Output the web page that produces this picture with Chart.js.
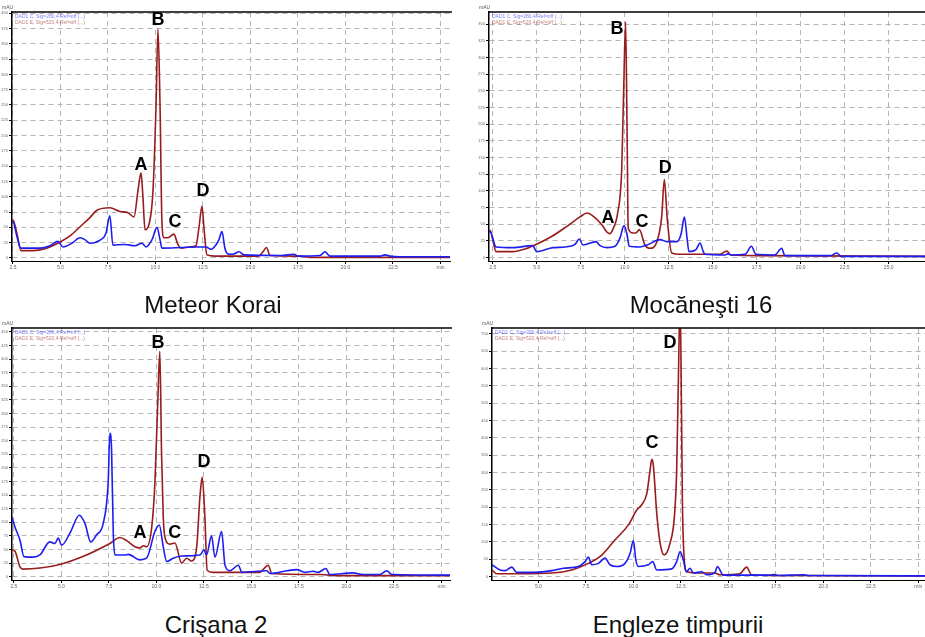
<!DOCTYPE html>
<html>
<head>
<meta charset="utf-8">
<script src="https://cdn.jsdelivr.net/npm/chart.js@4.4.0/dist/chart.umd.min.js"></script>
<style>
  body { margin: 0; background: #fff; width: 925px; height: 637px; overflow: hidden; position: relative; font-family: "Liberation Sans", Arial, sans-serif; }
  canvas { position: absolute; }
  .title { position: absolute; width: 300px; text-align: center; font-size: 24px; line-height: 28px; color: #111; }
</style>
</head>
<body>
<canvas id="cMK" width="455" height="275" style="left:0;top:0"></canvas>
<canvas id="cMO" width="460" height="275" style="left:470px;top:0"></canvas>
<canvas id="cCR" width="455" height="278" style="left:0;top:316px"></canvas>
<canvas id="cEN" width="458" height="278" style="left:472px;top:316px"></canvas>
<div class="title" style="left:63px;top:291px">Meteor Korai</div>
<div class="title" style="left:551px;top:291px">Mocăneşti 16</div>
<div class="title" style="left:66px;top:611px">Crişana 2</div>
<div class="title" style="left:528px;top:611px">Engleze timpurii</div>
<script>
// signal names
var blueLabel = 'DAD1 C, Sig=280,4 Ref=off (...)';
var redLabel = 'DAD1 E, Sig=520,4 Ref=off (...)';

// Meteor Korai (min, mAU)
var mkRedT = [2.45, 2.5, 2.71, 2.92, 3.55, 4.18, 5.03, 5.5, 6.03, 6.55, 6.92, 7.6, 8.13, 8.55, 8.87, 9.08, 9.24, 9.34, 9.45, 9.66, 9.87, 10.03, 10.13, 10.24, 10.34, 10.45, 10.66, 10.97, 11.18, 11.34, 11.82, 12.13, 12.29, 12.45, 12.55, 12.71, 13.13, 13.66, 15.4, 15.66, 15.84, 16.03, 17.6, 18.13, 25.5];
var mkRedV = [62, 62, 40, 12, 12, 15, 27, 36, 51, 66, 78, 82, 76, 74, 67, 110, 139, 100, 46, 55, 110, 250, 374, 250, 60, 33, 33, 39, 22, 16, 18, 20, 50, 85, 50, 5, 3, 3, 3, 10, 17, 4, 3, 1, 1];
var mkBlueT = [2.45, 2.5, 2.71, 2.92, 3.92, 4.45, 4.87, 5.13, 5.6, 6.03, 6.29, 6.55, 7.08, 7.39, 7.6, 7.76, 8.39, 8.92, 9.29, 9.5, 9.82, 10.08, 10.24, 10.34, 11.34, 12.13, 12.66, 12.92, 13.18, 13.34, 13.5, 13.66, 13.87, 14.08, 14.4, 14.66, 16.6, 17.29, 17.5, 18.66, 18.92, 19.18, 20.24, 21.82, 22.08, 22.34, 22.87, 25.5];
var mkBlueV = [59, 59, 35, 16, 16, 20, 27, 18, 24, 33, 30, 24, 29, 40, 69, 21, 22, 20, 24, 18, 30, 50, 30, 16, 17, 18, 18, 14, 21, 30, 43, 15, 6, 6, 10, 5, 4, 6, 3, 4, 10, 3, 3, 3, 5, 3, 2, 2];
var mkPeaks = ['A', 'B', 'C', 'D'];
var mkPeakT = [9.24, 10.13, 11.03, 12.5];
var mkPeakV = [152, 389, 59, 109];

// Mocăneşti 16
var moRedT = [2.29, 2.35, 2.52, 2.69, 3.65, 4.34, 4.9, 5.87, 6.72, 7.46, 7.86, 8.31, 8.71, 9.0, 9.15, 9.32, 9.6, 9.83, 9.94, 10.05, 10.13, 10.2, 10.47, 10.64, 10.83, 11.15, 11.43, 11.83, 12.1, 12.25, 12.42, 12.67, 13.14, 15.41, 15.64, 15.8, 16.03, 17.68, 27.06];
var moRedV = [41, 41, 25, 9, 9, 13, 19, 32, 47, 61, 67, 60, 49, 38, 36, 42, 67, 132, 250, 353, 200, 44, 37, 37, 42, 19, 14, 24, 61, 117, 57, 7, 5, 5, 8, 10, 4, 3, 2];
var moBlueT = [2.29, 2.35, 2.69, 3.65, 4.77, 5.0, 5.93, 6.61, 7.18, 7.42, 7.63, 8.37, 8.6, 9.0, 9.45, 9.74, 9.96, 10.13, 10.26, 10.87, 11.27, 12.02, 12.39, 12.97, 13.2, 13.39, 13.54, 13.65, 14.05, 14.28, 14.45, 14.56, 15.7, 15.87, 16.04, 16.84, 17.2, 17.45, 18.53, 18.92, 19.1, 21.67, 22.05, 22.3, 27.06];
var moBlueV = [39, 39, 16, 15, 18, 9, 15, 16, 20, 28, 19, 24, 18, 15, 17, 30, 48, 35, 17, 16, 19, 27, 24, 24, 35, 61, 30, 9, 12, 22, 10, 5, 4, 6, 4, 5, 17, 5, 4, 14, 3, 3, 7, 2, 2];
var moPeaks = ['A', 'B', 'C', 'D'];
var moPeakT = [9.05, 9.56, 10.98, 12.3];
var moPeakV = [60, 342, 54, 135];

// Crişana 2
var crRedT = [2.39, 2.55, 2.82, 2.97, 3.87, 4.97, 6.13, 7.55, 8.08, 8.45, 8.87, 9.13, 9.31, 9.48, 9.75, 9.92, 10.08, 10.18, 10.27, 10.36, 10.45, 10.71, 10.97, 11.33, 11.59, 11.85, 12.12, 12.29, 12.41, 12.55, 12.67, 12.97, 15.45, 15.66, 15.88, 16.08, 18.61, 19.66, 25.45];
var crRedV = [49, 47, 18, 14, 16, 23, 37, 61, 72, 66, 55, 53, 57, 55, 90, 172, 330, 414, 227, 110, 72, 60, 62, 25, 34, 29, 55, 147, 183, 110, 12, 8, 8, 15, 21, 6, 4, 2, 2];
var crBlueT = [2.39, 2.55, 2.82, 3.03, 3.5, 3.87, 4.39, 4.66, 4.83, 5.01, 5.45, 5.94, 6.24, 6.54, 6.85, 7.2, 7.46, 7.55, 7.64, 7.73, 7.82, 8.34, 8.52, 9.13, 9.48, 9.92, 10.15, 10.36, 10.54, 10.88, 11.33, 12.29, 12.5, 12.64, 12.9, 13.08, 13.43, 13.61, 13.87, 14.31, 14.5, 15.82, 15.97, 16.87, 17.39, 17.82, 18.24, 18.5, 18.92, 19.13, 20.34, 20.87, 21.76, 22.12, 22.39, 25.45];
var crBlueV = [110, 92, 67, 37, 36, 40, 64, 61, 71, 58, 80, 113, 98, 64, 77, 98, 172, 264, 233, 80, 40, 40, 41, 31, 34, 83, 95, 55, 28, 34, 38, 40, 49, 40, 75, 36, 83, 21, 11, 21, 8, 11, 6, 11, 13, 8, 10, 8, 15, 4, 7, 4, 4, 11, 4, 3];
var crPeaks = ['A', 'B', 'C', 'D'];
var crPeakT = [9.13, 10.08, 10.97, 12.5];
var crPeakV = [80, 429, 80, 211];

// Engleze timpurii
var enRedT = [2.56, 2.81, 4.04, 5.71, 6.76, 7.63, 8.34, 9.04, 9.74, 10.18, 10.44, 10.71, 10.88, 10.97, 11.05, 11.23, 11.41, 11.62, 11.93, 12.16, 12.28, 12.38, 12.46, 12.53, 12.58, 12.68, 12.8, 13.5, 14.29, 14.56, 15.6, 15.96, 16.22, 17.43, 25.35];
var enRedV = [19, 8, 8, 10, 19, 38, 62, 106, 149, 192, 207, 240, 307, 338, 322, 183, 96, 62, 96, 173, 307, 600, 800, 500, 221, 48, 14, 10, 10, 5, 8, 27, 5, 3, 2];
var enBlueT = [2.56, 2.98, 3.25, 3.6, 3.86, 4.83, 5.71, 6.32, 7.11, 7.46, 7.63, 7.81, 8.16, 8.51, 8.77, 9.13, 9.56, 9.83, 10.0, 10.13, 10.26, 10.79, 11.02, 11.23, 12.02, 12.28, 12.46, 12.63, 12.8, 12.98, 13.16, 13.6, 13.86, 14.3, 14.42, 14.74, 17.2, 17.41, 17.62, 18.94, 19.2, 25.35];
var enBlueV = [34, 19, 17, 27, 12, 12, 17, 24, 29, 43, 56, 34, 38, 53, 34, 29, 38, 67, 104, 48, 29, 34, 43, 19, 22, 43, 72, 48, 14, 24, 10, 14, 5, 12, 29, 4, 4, 6, 3, 5, 3, 2];
var enPeaks = ['C', 'D'];
var enPeakT = [10.98, 11.93];
var enPeakV = [385, 673];

function pts(t, v) {
    return t.map(function (x, i) { return { x: x, y: v[i] }; });
}

// ticks only on whole steps inside the axis range
function onStep(step) {
    return function (scale) {
        var ticks = [];
        var k = Math.ceil(Math.max(scale.min, 0) / step - 1e-9);
        for (; k * step <= scale.max + 1e-9; k++) {
            ticks.push({ value: Math.round(k * step * 100) / 100 });
        }
        scale.ticks = ticks;
    };
}

var framePlugin = {
    id: 'frame',
    afterDatasetsDraw: function (chart, args, opts) {
        var ctx = chart.ctx, a = chart.chartArea;
        var xs = chart.scales.x, ys = chart.scales.y;
        ctx.save();
        ctx.strokeStyle = '#000';
        ctx.lineWidth = 1.5;
        ctx.beginPath();
        ctx.moveTo(a.left, a.top);
        ctx.lineTo(a.right + 2, a.top);
        ctx.stroke();

        ctx.font = '5px "Liberation Sans"';
        ctx.textAlign = 'left';
        ctx.textBaseline = 'top';
        chart.data.datasets.forEach(function (ds, i) {
            ctx.fillStyle = ds.borderColor;
            ctx.globalAlpha = 0.6;
            ctx.fillText(ds.label, a.left + 3, a.top + 2 + i * 6);
        });
        ctx.globalAlpha = 1;
        ctx.fillStyle = '#555';
        ctx.fillText('mAU', a.left - 10, a.top - 7);

        ctx.fillStyle = '#000';
        ctx.font = 'bold 18px "Liberation Sans"';
        ctx.textAlign = 'center';
        ctx.textBaseline = 'middle';
        opts.names.forEach(function (n, i) {
            ctx.fillText(n, xs.getPixelForValue(opts.t[i]), ys.getPixelForValue(opts.v[i]));
        });
        ctx.restore();
    }
};

function panel(id, o) {
    new Chart(document.getElementById(id), {
        type: 'line',
        data: {
            datasets: [
                { label: blueLabel, data: pts(o.blueT, o.blueV), borderColor: '#1d1df2' },
                { label: redLabel, data: pts(o.redT, o.redV), borderColor: '#981c1c' }
            ]
        },
        options: {
            responsive: false,
            animation: false,
            layout: { padding: o.pad },
            elements: {
                point: { radius: 0 },
                line: { borderWidth: 1.6, cubicInterpolationMode: 'monotone' }
            },
            plugins: {
                legend: { display: false },
                tooltip: { enabled: false },
                frame: { names: o.peaks, t: o.peakT, v: o.peakV }
            },
            scales: {
                x: {
                    type: 'linear', min: o.xMin, max: o.xMax,
                    afterBuildTicks: onStep(2.5),
                    afterFit: function (s) { s.height = 14; },
                    ticks: {
                        autoSkip: false, maxRotation: 0, padding: 1,
                        font: { size: 5, family: 'Liberation Sans' }, color: '#666',
                        callback: function (v) { return (o.minAt && Math.abs(v - o.minAt) < 1e-6) ? 'min' : v.toFixed(1); }
                    },
                    grid: { color: '#b5b5b5', tickColor: '#000', tickLength: 3 },
                    border: { color: '#000', width: 1, dash: [5, 4] }
                },
                y: {
                    min: o.yMin, max: o.yMax,
                    afterBuildTicks: onStep(o.yStep),
                    afterFit: function (s) { s.width = o.yWidth; },
                    ticks: {
                        autoSkip: false, padding: 1,
                        font: { size: 4, family: 'Liberation Sans' }, color: '#666',
                        callback: function (v) { return String(v); }
                    },
                    grid: { color: '#b5b5b5', tickColor: '#000', tickLength: 3 },
                    border: { color: '#000', width: 1.5, dash: [5, 4] }
                }
            }
        },
        plugins: [framePlugin]
    });
}

panel('cMK', {
    redT: mkRedT, redV: mkRedV, blueT: mkBlueT, blueV: mkBlueV,
    peaks: mkPeaks, peakT: mkPeakT, peakV: mkPeakV,
    xMin: 2.45, xMax: 25.5, yMin: -5, yMax: 402, yStep: 25, minAt: 25,
    yWidth: 12, pad: { top: 12, right: 5, left: 0, bottom: 0 }
});
panel('cMO', {
    redT: moRedT, redV: moRedV, blueT: moBlueT, blueV: moBlueV,
    peaks: moPeaks, peakT: moPeakT, peakV: moPeakV,
    xMin: 2.29, xMax: 27.06, yMin: -5, yMax: 368, yStep: 25, minAt: null,
    yWidth: 19, pad: { top: 12, right: 5, left: 0, bottom: 0 }
});
panel('cCR', {
    redT: crRedT, redV: crRedV, blueT: crBlueT, blueV: crBlueV,
    peaks: crPeaks, peakT: crPeakT, peakV: crPeakV,
    xMin: 2.4, xMax: 25.45, yMin: -6, yMax: 457, yStep: 25, minAt: 25,
    yWidth: 12, pad: { top: 12, right: 5, left: 0, bottom: 0 }
});
panel('cEN', {
    redT: enRedT, redV: enRedV, blueT: enBlueT, blueV: enBlueV,
    peaks: enPeaks, peakT: enPeakT, peakV: enPeakV,
    xMin: 2.56, xMax: 25.35, yMin: -10, yMax: 717, yStep: 50, minAt: 25,
    yWidth: 20, pad: { top: 12, right: 5, left: 0, bottom: 0 }
});
</script>
</body>
</html>
